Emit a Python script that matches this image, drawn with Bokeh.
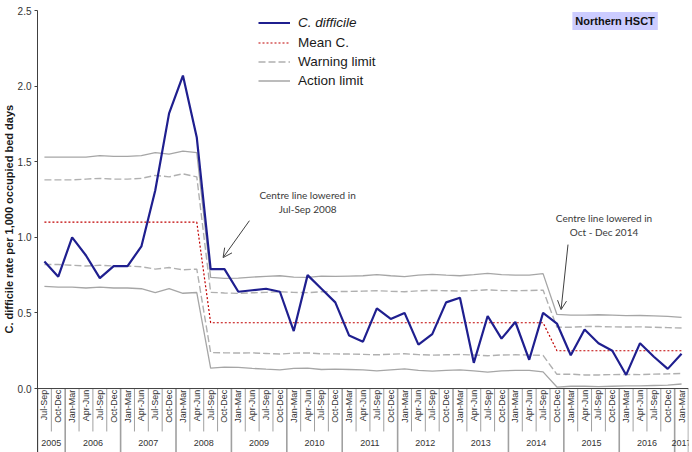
import math
from bokeh.plotting import figure
from bokeh.models import (FactorRange, Range1d, FixedTicker, PrintfTickFormatter, Span,
                          Label, Arrow, OpenHead, Legend, LegendItem, ColumnDataSource, Title)
from bokeh.embed import file_html
from bokeh.resources import INLINE
from bokeh.core.properties import value

# ---------------- data ----------------
years = (["2005"] * 2 + ["2006"] * 4 + ["2007"] * 4 + ["2008"] * 4 + ["2009"] * 4 +
         ["2010"] * 4 + ["2011"] * 4 + ["2012"] * 4 + ["2013"] * 4 + ["2014"] * 4 +
         ["2015"] * 4 + ["2016"] * 4 + ["2017"] * 1)
quarters = (["Jul-Sep", "Oct-Dec"] + ["Jan-Mar", "Apr-Jun", "Jul-Sep", "Oct-Dec"] * 11 +
            ["Jan-Mar"])

cdiff = [0.84, 0.74, 1.00, 0.88, 0.73, 0.81, 0.81, 0.94, 1.31, 1.82, 2.07, 1.66,
         0.79, 0.79, 0.64, 0.65, 0.66, 0.64, 0.38, 0.75, 0.66, 0.57, 0.35, 0.31, 0.53,
         0.46, 0.50, 0.29, 0.36, 0.57, 0.60, 0.17, 0.48, 0.33, 0.44, 0.19, 0.50,
         0.43, 0.22, 0.39, 0.30, 0.25, 0.09, 0.30, 0.21, 0.13, 0.23]

mean_c = [1.10, 1.10, 1.10, 1.10, 1.10, 1.10, 1.10, 1.10, 1.10, 1.10, 1.10, 1.10,
          0.435, 0.435, 0.435, 0.435, 0.435, 0.435, 0.435, 0.435, 0.435, 0.435, 0.435,
          0.435, 0.435, 0.435, 0.435, 0.435, 0.435, 0.435, 0.435, 0.435, 0.435, 0.435,
          0.435, 0.435, 0.435,
          0.25, 0.25, 0.25, 0.25, 0.25, 0.25, 0.25, 0.25, 0.25, 0.25]

upper_action = [1.53, 1.53, 1.53, 1.53, 1.54, 1.535, 1.535, 1.54, 1.56, 1.55, 1.57, 1.56,
                0.735, 0.728, 0.73, 0.737, 0.742, 0.746, 0.737, 0.735, 0.744, 0.742, 0.744,
                0.746, 0.753, 0.746, 0.74, 0.75, 0.755, 0.75, 0.746, 0.753, 0.762, 0.753,
                0.75, 0.75, 0.76,
                0.49, 0.485, 0.485, 0.488, 0.485, 0.482, 0.483, 0.48, 0.477, 0.47]

upper_warning = [1.38, 1.38, 1.38, 1.385, 1.39, 1.385, 1.385, 1.39, 1.41, 1.40, 1.42, 1.40,
                 0.636, 0.632, 0.629, 0.633, 0.636, 0.64, 0.636, 0.634, 0.64, 0.641, 0.642,
                 0.644, 0.647, 0.643, 0.64, 0.646, 0.649, 0.647, 0.645, 0.648, 0.653, 0.648,
                 0.647, 0.648, 0.651,
                 0.406, 0.405, 0.41, 0.41, 0.408, 0.407, 0.408, 0.405, 0.403, 0.40]

lower_warning = [0.82, 0.82, 0.815, 0.81, 0.815, 0.81, 0.81, 0.805, 0.79, 0.80, 0.785, 0.79,
                 0.238, 0.236, 0.235, 0.236, 0.232, 0.228, 0.234, 0.236, 0.229, 0.229, 0.228,
                 0.226, 0.223, 0.227, 0.23, 0.224, 0.221, 0.223, 0.225, 0.222, 0.217, 0.222,
                 0.223, 0.222, 0.219,
                 0.094, 0.095, 0.09, 0.09, 0.092, 0.093, 0.092, 0.095, 0.097, 0.10]

lower_action = [0.675, 0.67, 0.67, 0.665, 0.67, 0.665, 0.665, 0.66, 0.635, 0.66, 0.63, 0.635,
                0.135, 0.142, 0.14, 0.133, 0.128, 0.124, 0.133, 0.135, 0.126, 0.128, 0.126,
                0.124, 0.117, 0.124, 0.13, 0.12, 0.115, 0.12, 0.124, 0.117, 0.108, 0.117,
                0.12, 0.12, 0.11,
                0.01, 0.015, 0.015, 0.012, 0.015, 0.018, 0.017, 0.02, 0.023, 0.03]

y_ticks = [0.0, 0.5, 1.0, 1.5, 2.0, 2.5]

# ---------------- figure ----------------
factors = list(zip(years, quarters))
n = len(factors)

FONT = "Liberation Sans"
AX = "#404040"
W, H = 692, 452
ML, MR, MT = 35, 4, 10
Y0 = -0.423

p = figure(width=W, height=H,
           x_range=FactorRange(factors=factors, factor_padding=0, subgroup_padding=0,
                               group_padding=0, range_padding=0),
           y_range=Range1d(Y0, 2.5),
           x_axis_location=None,
           output_backend="svg", toolbar_location=None,
           min_border_left=ML, min_border_right=MR, min_border_top=MT, min_border_bottom=0)
p.grid.grid_line_color = None
p.outline_line_color = None
p.background_fill_color = "white"

yax = p.yaxis[0]
yax.ticker = FixedTicker(ticks=y_ticks)
yax.formatter = PrintfTickFormatter(format="%.1f")
yax.major_label_text_font = FONT
yax.major_label_text_font_size = "10px"
yax.major_label_text_color = "#333333"
yax.axis_line_color = AX
yax.major_tick_line_color = AX
yax.major_tick_out = 3
yax.major_tick_in = 0
yax.minor_tick_line_color = None
yax.major_label_standoff = 3
yax.axis_label = None

# y axis title, placed along the left panel
p.add_layout(Title(text="C. difficile rate per 1,000 occupied bed days", align="left",
                   offset=119, standoff=0, text_font=FONT, text_font_size="11px",
                   text_font_style="bold", text_color="#1a1a1a"), "left")

# x axis line at zero
p.add_layout(Span(location=0, dimension="width", line_color=AX, line_width=1))

# category separators and labels (drawn below the zero line)
quarter_bounds = [i for i in range(1, n) if years[i] == years[i - 1]]
year_bounds = [0] + [i for i in range(1, n) if years[i] != years[i - 1]] + [n]
year_names = []
year_centers = []
for k in range(len(year_bounds) - 1):
    year_names.append(years[year_bounds[k]])
    year_centers.append((year_bounds[k] + year_bounds[k + 1]) / 2)

p.segment(x0=quarter_bounds, y0=0, x1=quarter_bounds, y1=-0.284,
          line_color="#a0a0a0", line_width=1)
p.segment(x0=year_bounds, y0=0, x1=year_bounds, y1=Y0,
          line_color="#a0a0a0", line_width=1.6)

p.text(x=factors, y=-0.008, text=quarters, angle=math.pi / 2,
       text_align="right", text_baseline="middle",
       text_font=value(FONT), text_font_size="9px", text_color="#333333")
p.text(x=year_centers, y=-0.357, text=year_names,
       text_align="center", text_baseline="middle",
       text_font=value(FONT), text_font_size="9px", text_color="#333333")

# ---------------- series ----------------
src = ColumnDataSource(dict(x=factors, cdiff=cdiff, mean=mean_c, ua=upper_action,
                            uw=upper_warning, lw=lower_warning, la=lower_action))

r_ua = p.line("x", "ua", source=src, line_color="#a6a6a6", line_width=1.3)
r_la = p.line("x", "la", source=src, line_color="#a6a6a6", line_width=1.3)
r_uw = p.line("x", "uw", source=src, line_color="#b0b0b0", line_width=1.4, line_dash="7 3")
r_lw = p.line("x", "lw", source=src, line_color="#b0b0b0", line_width=1.4, line_dash="7 3")
r_mean = p.line("x", "mean", source=src, line_color="#c00000", line_width=1.2,
                line_dash="2 2")
r_c = p.line("x", "cdiff", source=src, line_color="#1f1f8f", line_width=2.2)

# ---------------- legend ----------------
FH = H - MT  # frame height in px
leg_common = dict(orientation="vertical", glyph_width=32, glyph_height=19, label_height=19,
                  label_standoff=8, spacing=0, padding=0, margin=0,
                  border_line_color=None, background_fill_alpha=0,
                  label_text_font=FONT, label_text_font_size="13.5px",
                  label_text_color="#1a1a1a", label_text_baseline="middle")
legA = Legend(items=[LegendItem(label="C. difficile", renderers=[r_c])],
              location=(221, FH - 2.8 - 19), label_text_font_style="italic", **leg_common)
legB = Legend(items=[LegendItem(label="Mean C.", renderers=[r_mean]),
                     LegendItem(label="Warning limit", renderers=[r_uw]),
                     LegendItem(label="Action limit", renderers=[r_ua])],
              location=(221, FH - 22.5 - 57), **leg_common)
p.add_layout(legA)
p.add_layout(legB)

# ---------------- annotations ----------------
ann_common = dict(text_align="center", text_baseline="middle", text_font="Lato",
                  text_font_size="10px", text_color="#3a3a3a")
p.add_layout(Label(x=19.5, y=1.283, text="Centre line lowered in", **ann_common))
p.add_layout(Label(x=19.5, y=1.19, text="Jul-Sep 2008", **ann_common))
p.add_layout(Label(x=40.9, y=1.131, text="Centre line lowered in", **ann_common))
p.add_layout(Label(x=40.9, y=1.032, text="Oct - Dec 2014", **ann_common))

p.add_layout(Arrow(x_start=15.3, y_start=1.11, x_end=13.4, y_end=0.866,
                   line_color="#404040", line_width=1,
                   end=OpenHead(size=9, line_color="#404040", line_width=1)))
p.add_layout(Arrow(x_start=38.3, y_start=0.952, x_end=37.8, y_end=0.522,
                   line_color="#404040", line_width=1,
                   end=OpenHead(size=9, line_color="#404040", line_width=1)))

p.add_layout(Label(x=41.7, y=2.43, text="Northern HSCT", text_align="center",
                   text_baseline="middle", text_font=FONT, text_font_size="11px",
                   text_font_style="bold", text_color="#111111",
                   background_fill_color="#ccccff", padding=3))

open("out.html", "w").write(file_html(p, INLINE, title="Northern HSCT"))
